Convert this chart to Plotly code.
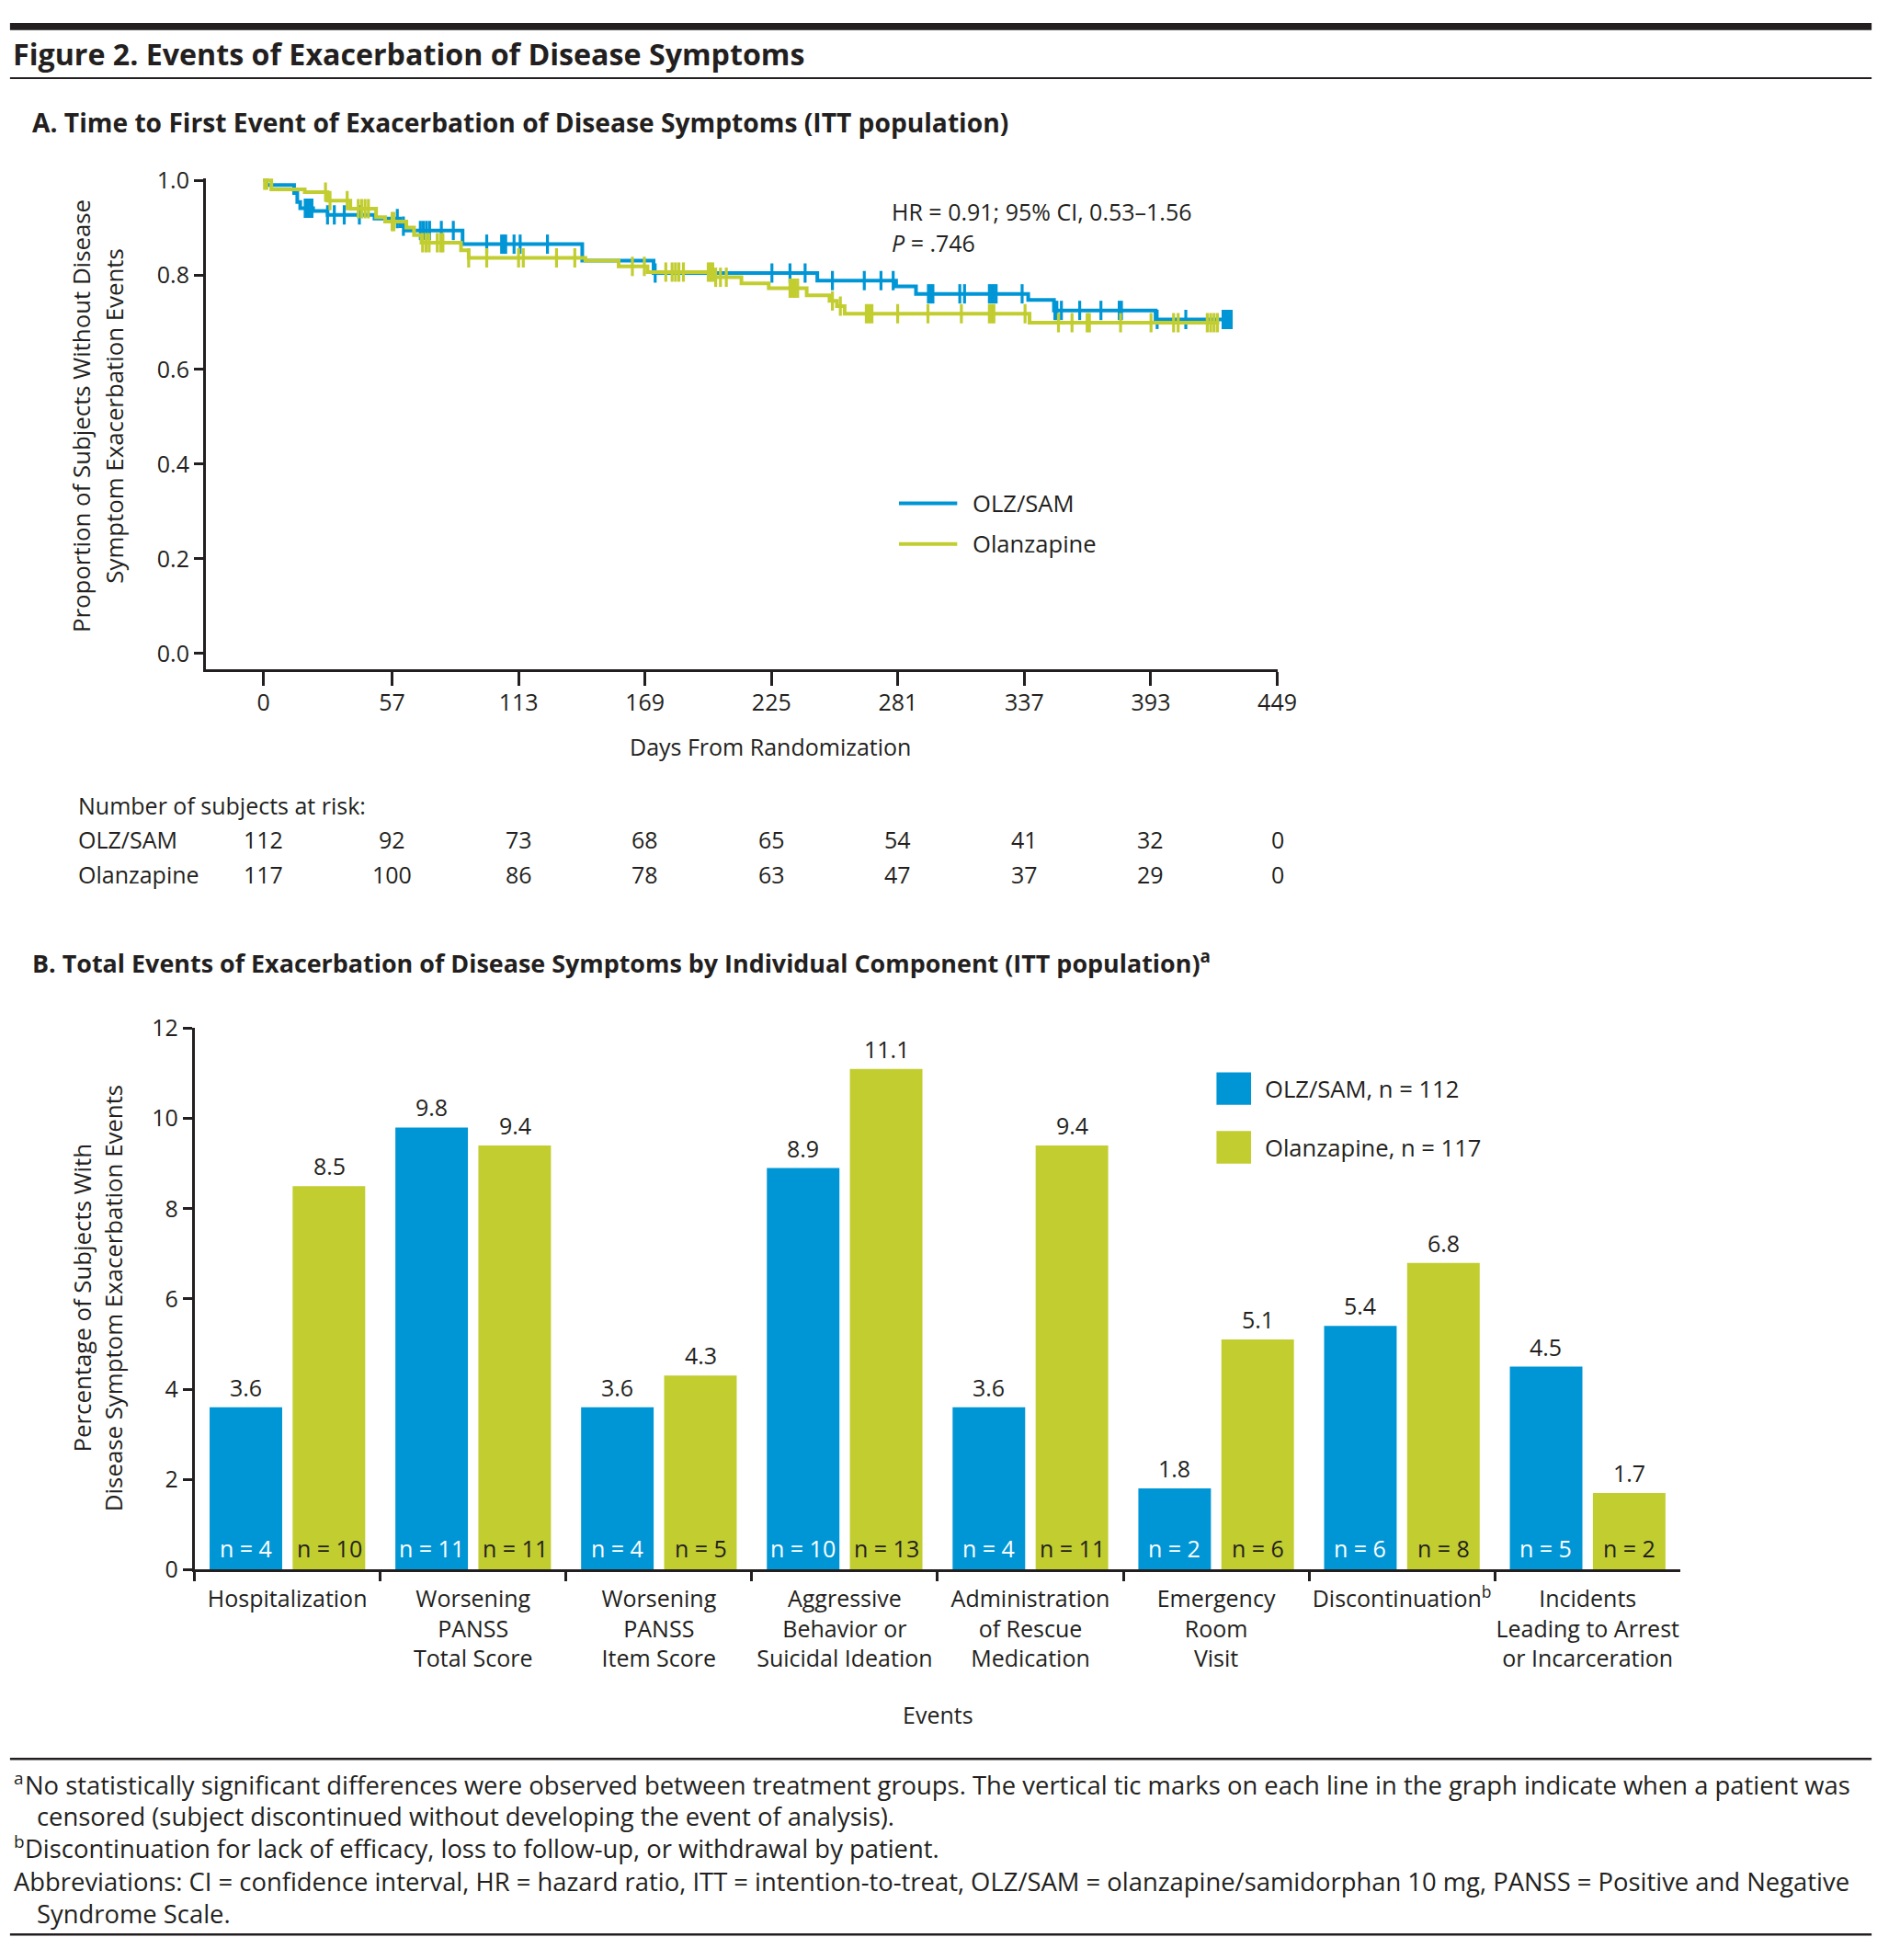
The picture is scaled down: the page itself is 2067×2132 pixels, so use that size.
import plotly.graph_objects as go

W, H = 2067, 2132
FONT = "Open Sans"
INK = "#231f20"
BLUE = "#0096d6"
GREEN = "#c2cd30"
FS = 25

# ---------------- DATA ----------------
km_tick_days = [0, 57, 113, 169, 225, 281, 337, 393, 449]
km_y_ticks = [0.0, 0.2, 0.4, 0.6, 0.8, 1.0]
risk_olz_sam = [112, 92, 73, 68, 65, 54, 41, 32, 0]
risk_olanzapine = [117, 100, 86, 78, 63, 47, 37, 29, 0]

olz_sam_event_days = [0, 1.5, 13.6, 15.0, 16.3, 22.0, 28.4, 49.2, 60.6, 62.5, 88.2, 141.2,
                      172.8, 245.3, 280.2, 289.0, 338.7, 350.1, 395.1, 428.6]
olz_sam_surv = [1.0, 0.990, 0.973, 0.954, 0.941, 0.935, 0.927, 0.919, 0.903, 0.894, 0.865, 0.830,
                0.804, 0.788, 0.776, 0.760, 0.747, 0.725, 0.706, 0.706]
olz_sam_censor_days = [18.5, 19.5, 20.5, 21.5, 28.4, 31.4, 35.8, 42.5, 59.3, 62.0, 69.5, 70.8,
                       72.2, 73.6, 78.8, 84.1, 98.9, 105.5, 106.5, 107.3, 111.0, 113.7, 125.8,
                       173.5, 225.2, 233.2, 239.9, 252.0, 266.1, 273.5, 278.9, 294.5, 295.5,
                       296.5, 308.4, 310.5, 321.5, 322.5, 323.5, 324.5, 336.0, 350.5, 351.4,
                       353.4, 361.5, 370.9, 379.0, 380.0, 395.8, 408.5, 425.0, 426.2, 427.4, 428.6]

olanzapine_event_days = [0, 3.5, 18.3, 28.4, 38.5, 49.9, 53.9, 63.3, 66.7, 70.0, 87.5, 90.9,
                         142.6, 157.3, 170.1, 200.0, 211.7, 223.8, 240.6, 250.7, 254.0, 257.4,
                         339.3, 423.3]
olanzapine_surv = [1.0, 0.981, 0.975, 0.957, 0.940, 0.922, 0.913, 0.900, 0.884, 0.868, 0.852, 0.836,
                   0.830, 0.818, 0.806, 0.795, 0.782, 0.772, 0.757, 0.745, 0.734, 0.718,
                   0.699, 0.699]
olanzapine_censor_days = [0.5, 1.5, 27.5, 29.5, 37.1, 42.0, 43.5, 45.0, 46.5, 57.0, 57.8, 70.5,
                          72.0, 73.4, 77.0, 78.5, 79.5, 90.9, 98.9, 113.0, 115.1, 129.8, 137.9,
                          163.4, 168.7, 178.2, 181.0, 182.5, 184.0, 186.0, 197.0, 198.0, 199.0,
                          200.3, 202.4, 205.0, 233.2, 234.5, 235.5, 236.6, 252.0, 255.5, 267.0,
                          268.2, 269.5, 280.9, 294.3, 309.1, 321.5, 322.5, 323.5, 337.3, 352.1,
                          358.1, 364.8, 365.8, 379.6, 393.1, 403.1, 405.1, 418.0, 419.5, 421.0,
                          422.5]

bar_keys = ["hosp", "ptot", "pitem", "aggr", "resc", "er", "disc", "arrest"]
bar_labels = ["Hospitalization",
              "Worsening<br>PANSS<br>Total Score",
              "Worsening<br>PANSS<br>Item Score",
              "Aggressive<br>Behavior or<br>Suicidal Ideation",
              "Administration<br>of Rescue<br>Medication",
              "Emergency<br>Room<br>Visit",
              "Discontinuation<sup>b</sup>",
              "Incidents<br>Leading to Arrest<br>or Incarceration"]
pct_olz_sam = [3.6, 9.8, 3.6, 8.9, 3.6, 1.8, 5.4, 4.5]
pct_olanzapine = [8.5, 9.4, 4.3, 11.1, 9.4, 5.1, 6.8, 1.7]
n_olz_sam = [4, 11, 4, 10, 4, 2, 6, 5]
n_olanzapine = [10, 11, 5, 13, 11, 6, 8, 2]
bar_y_ticks = [0, 2, 4, 6, 8, 10, 12]

# ---------------- GEOMETRY (pixels) ----------------
def fx(p):
    return p / W


def fy(p):
    return 1 - p / H


KM_X0, KM_X1 = 226, 1404
KM_YTOP, KM_YBOT = 179, 722
DAY0_PX, DAY449_PX = 289.5, 1403.8
V1_PX, V0_PX = 181, 704
dpp = 449 / (DAY449_PX - DAY0_PX)
km_xrange = [(KM_X0 - DAY0_PX) * dpp, 449 + (KM_X1 - DAY449_PX) * dpp]
vpp = 1 / (V0_PX - V1_PX)
km_yrange = [-(KM_YBOT - V0_PX) * vpp, 1 + (V1_PX - KM_YTOP) * vpp]

B_X0, B_X1 = 213.8, 1847
B_YTOP, B_YBOT = 1118.3, 1716.7
BARGAP, BARGROUPGAP = 0.106, 0.126
cat_px = (B_X1 - B_X0) / len(bar_keys)
slot_px = (1 - BARGAP) * cat_px / 2


def surv_at(t, days, surv):
    idx = 0
    for i, d in enumerate(days):
        if d <= t:
            idx = i
    return surv[idx]


fig = go.Figure()

# KM curves
for days, surv, cens, col, name in [
    (olz_sam_event_days, olz_sam_surv, olz_sam_censor_days, BLUE, "OLZ/SAM"),
    (olanzapine_event_days, olanzapine_surv, olanzapine_censor_days, GREEN, "Olanzapine"),
]:
    fig.add_trace(go.Scatter(x=days, y=surv, mode="lines", line=dict(color=col, width=4, shape="hv"),
                             name=name, showlegend=False, xaxis="x", yaxis="y", hoverinfo="skip"))
    fig.add_trace(go.Scatter(x=cens, y=[surv_at(t, days, surv) for t in cens], mode="markers",
                             marker=dict(symbol="line-ns", size=15, line=dict(color=col, width=3.2)),
                             showlegend=False, xaxis="x", yaxis="y", hoverinfo="skip"))

# Bars
fig.add_trace(go.Bar(x=bar_keys, y=pct_olz_sam, marker=dict(color=BLUE, line=dict(width=0)),
                     name="OLZ/SAM, n = 112", showlegend=False, xaxis="x2", yaxis="y2"))
fig.add_trace(go.Bar(x=bar_keys, y=pct_olanzapine, marker=dict(color=GREEN, line=dict(width=0)),
                     name="Olanzapine, n = 117", showlegend=False, xaxis="x2", yaxis="y2"))

axis_common = dict(showgrid=False, zeroline=False, showline=True, linecolor=INK, ticks="outside",
                   tickcolor=INK, tickfont=dict(family=FONT, size=FS, color=INK))

fig.update_layout(
    width=W, height=H, margin=dict(l=0, r=0, t=0, b=0),
    paper_bgcolor="white", plot_bgcolor="rgba(0,0,0,0)",
    font=dict(family=FONT, size=FS, color=INK),
    bargap=BARGAP, bargroupgap=BARGROUPGAP, barmode="group",
    showlegend=False,
    xaxis=dict(domain=[fx(KM_X0), fx(KM_X1)], range=km_xrange, tickmode="array",
               tickvals=km_tick_days, ticklen=15, tickwidth=2.5, linewidth=3, anchor="y",
               ticklabelstandoff=-3, **axis_common),
    yaxis=dict(domain=[fy(KM_YBOT), fy(KM_YTOP)], range=km_yrange, tickmode="array",
               tickvals=km_y_ticks, ticktext=[f"{v:.1f}" for v in km_y_ticks], ticklen=10,
               tickwidth=2.5, linewidth=2.5, anchor="x", **axis_common),
    xaxis2=dict(domain=[fx(B_X0), fx(B_X1)], type="category", range=[-0.5, len(bar_keys) - 0.5],
                tickmode="array", tickvals=bar_keys, ticktext=bar_labels, tickson="boundaries",
                tickangle=0, ticklen=10, tickwidth=2.5, linewidth=3, anchor="y2",
                ticklabelstandoff=8, **axis_common),
    yaxis2=dict(domain=[fy(B_YBOT), fy(B_YTOP)], range=[0, 12], tickmode="array",
                tickvals=bar_y_ticks, ticklen=10, tickwidth=2.5, linewidth=2.5, anchor="x2",
                **axis_common),
)

ann = []


def text(x, y, s, size=FS, xanchor="left", yanchor="middle", angle=0, color=INK, xref="paper",
         yref="paper", xshift=0, yshift=0, bold=False):
    if bold:
        s = f"<b>{s}</b>"
    ann.append(dict(x=x, y=y, xref=xref, yref=yref, text=s, showarrow=False, xanchor=xanchor,
                    yanchor=yanchor, textangle=angle, xshift=xshift, yshift=yshift,
                    font=dict(family=FONT, size=size, color=color)))


# Titles
text(fx(12), fy(41), "Figure 2. Events of Exacerbation of Disease Symptoms", size=32.2, bold=True)
text(fx(33), fy(117), "A. Time to First Event of Exacerbation of Disease Symptoms (ITT population)",
     size=28.2, bold=True)
text(fx(33), fy(1045),
     "B. Total Events of Exacerbation of Disease Symptoms by Individual Component (ITT population)<sup>a</sup>",
     size=26.9, bold=True)

# KM annotations
text(fx(89), fy(442), "Proportion of Subjects Without Disease", size=25.8, angle=-90, xanchor="center")
text(fx(125), fy(442), "Symptom Exacerbation Events", size=25.8, angle=-90, xanchor="center")
text(fx(847), fy(807), "Days From Randomization", xanchor="center")
text(fx(978), fy(215), "HR = 0.91; 95% CI, 0.53–1.56")
text(fx(978), fy(250), "<i>P</i> = .746")
text(fx(84), fy(872), "Number of subjects at risk:")
text(fx(84), fy(910), "OLZ/SAM")
text(fx(84), fy(948), "Olanzapine")
for d, a, b in zip(km_tick_days, risk_olz_sam, risk_olanzapine):
    text(d, fy(910), str(a), xref="x", xanchor="center")
    text(d, fy(948), str(b), xref="x", xanchor="center")

# KM legend
shapes = []
for yy, col, lab in [(538, BLUE, "OLZ/SAM"), (583, GREEN, "Olanzapine")]:
    shapes.append(dict(type="line", xref="paper", yref="paper", x0=fx(988), x1=fx(1052), y0=fy(yy),
                       y1=fy(yy), line=dict(color=col, width=4)))
    text(fx(1067), fy(yy), lab, size=25.6)

# Bar annotations
text(fx(90), fy(1417), "Percentage of Subjects With", size=25.8, angle=-90, xanchor="center")
text(fx(125), fy(1417), "Disease Symptom Exacerbation Events", size=25.8, angle=-90, xanchor="center")
text(fx(1031), fy(1877), "Events", xanchor="center")
for k, vb, vg, nb, ng in zip(bar_keys, pct_olz_sam, pct_olanzapine, n_olz_sam, n_olanzapine):
    text(k, vb, f"{vb:.1f}", xref="x2", yref="y2", xanchor="center", xshift=-slot_px / 2, yshift=22)
    text(k, vg, f"{vg:.1f}", xref="x2", yref="y2", xanchor="center", xshift=slot_px / 2, yshift=22)
    text(k, 0, f"n = {nb}", xref="x2", yref="y2", xanchor="center", xshift=-slot_px / 2, yshift=23,
         color="white")
    text(k, 0, f"n = {ng}", xref="x2", yref="y2", xanchor="center", xshift=slot_px / 2, yshift=23)

# Bar legend
for y0, y1, col, lab in [(1167, 1203, BLUE, "OLZ/SAM, n = 112"), (1232, 1268, GREEN, "Olanzapine, n = 117")]:
    shapes.append(dict(type="rect", xref="paper", yref="paper", x0=fx(1337), x1=fx(1375), y0=fy(y1),
                       y1=fy(y0), fillcolor=col, line=dict(width=0)))
    text(fx(1388), fy((y0 + y1) / 2), lab, size=25.6)

# Rules
shapes.append(dict(type="rect", xref="paper", yref="paper", x0=fx(11), x1=fx(2057), y0=fy(15), y1=fy(7),
                   fillcolor=INK, line=dict(width=0)))
for yy, wdt in [(68, 2), (1926, 2.5), (2120, 2.5)]:
    shapes.append(dict(type="line", xref="paper", yref="paper", x0=fx(11), x1=fx(2057), y0=fy(yy),
                       y1=fy(yy), line=dict(color=INK, width=wdt)))

# Footnotes (superscript markers drawn as separate small texts)
FN = 27.4
SUP = 19
text(fx(13), fy(1947), "a", size=SUP)
text(fx(25), fy(1955), "No statistically significant differences were observed between treatment groups. "
     "The vertical tic marks on each line in the graph indicate when a patient was", size=FN)
text(fx(38), fy(1989), "censored (subject discontinued without developing the event of analysis).", size=FN)
text(fx(13), fy(2017), "b", size=SUP)
text(fx(25), fy(2025), "Discontinuation for lack of efficacy, loss to follow-up, or withdrawal by patient.",
     size=FN)
text(fx(13), fy(2061), "Abbreviations: CI = confidence interval, HR = hazard ratio, ITT = intention-to-treat, "
     "OLZ/SAM = olanzapine/samidorphan 10 mg, PANSS = Positive and Negative", size=FN)
text(fx(38), fy(2097), "Syndrome Scale.", size=FN)

fig.update_layout(annotations=ann, shapes=shapes)
fig.write_html(
    "out.html",
    config={"displayModeBar": False},
    post_script=("var gd=document.getElementById('{plot_id}');gd.style.position='absolute';"
                 "gd.style.left='0px';gd.style.top='0px';document.body.style.margin='0px';"
                 "document.body.style.overflow='hidden';"),
)
